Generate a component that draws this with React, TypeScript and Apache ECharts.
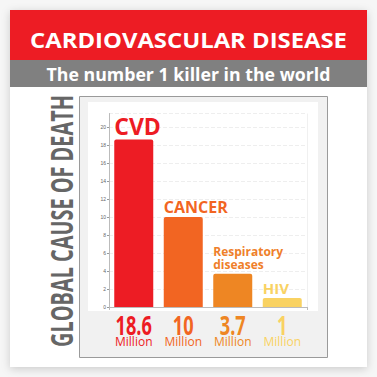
import React, { useEffect, useRef } from "react";
import * as echarts from "echarts";

const categories = ["CVD", "CANCER", "Respiratory\ndiseases", "HIV"];
const deaths = [18.6, 10, 3.7, 1];
const valueLabels = ["18.6", "10", "3.7", "1"];
const unitLabel = "Million";
const barColors = ["#ED1C24", "#F26522", "#EE8623", "#F9D262"];
const labelColors = ["#ED1C24", "#F26522", "#EF7F2A", "#F9D262"];
const labelSizes = [23, 16, 12, 15];
const labelOffsets = [-2, -2, -3, -2];
const yTicks = [0, 2, 4, 6, 8, 10, 12, 14, 16, 18, 20];

const title = "CARDIOVASCULAR DISEASE";
const subtitle = "The number 1 killer in the world";
const sideTitle = "GLOBAL CAUSE OF DEATH";

function measure(text: string, font: string): number {
  const c = document.createElement("canvas").getContext("2d");
  if (!c) return text.length * 10;
  c.font = font;
  return c.measureText(text).width;
}

export default function App() {
  const ref = useRef<HTMLDivElement>(null);
  useEffect(() => {
    if (!ref.current) return;
    const chart = echarts.init(ref.current, undefined, { renderer: "svg" });

    const titleFont = "bold 21px 'Open Sans'";
    const subFont = "bold 18px 'Open Sans'";
    const sideFont = "bold 30px 'Open Sans'";
    const numFont = "bold 26px 'Open Sans'";
    const titleScale = 317 / measure(title, titleFont);
    const subScale = 284 / measure(subtitle, subFont);
    const sideScale = 252 / measure(sideTitle, sideFont);

    const rich: Record<string, any> = {};
    valueLabels.forEach((_, i) => {
      rich["m" + i] = {
        fontFamily: "'Open Sans', Lato, sans-serif",
        fontSize: 12,
        lineHeight: 12,
        color: barColors[i],
        align: "center",
      };
    });
    chart.setOption({
      animation: false,
      backgroundColor: "#f6f6f6",
      graphic: [
        {
          id: "card",
          type: "rect",
          z: 0,
          shape: { x: 10, y: 10, width: 357, height: 357 },
          style: { fill: "#ffffff", shadowBlur: 8, shadowColor: "rgba(0,0,0,0.18)", shadowOffsetY: 2 },
        },
        { id: "red", type: "rect", z: 0, shape: { x: 10, y: 10, width: 357, height: 50 }, style: { fill: "#ED1C24" } },
        { id: "gray", type: "rect", z: 0, shape: { x: 10, y: 60, width: 357, height: 27 }, style: { fill: "#808080" } },
        {
          id: "panel",
          type: "rect",
          z: 0,
          shape: { x: 79.5, y: 96.5, width: 248, height: 261 },
          style: { fill: "#f1f1f1", stroke: "#9a9a9a", lineWidth: 1 },
        },
        { id: "plotbg", type: "rect", z: 0, shape: { x: 88, y: 102, width: 230, height: 209 }, style: { fill: "#ffffff" } },
        {
          id: "title",
          type: "text",
          z: 10,
          x: 188.5,
          y: 40,
          scaleX: titleScale,
          style: { text: title, fill: "#ffffff", font: titleFont, align: "center", verticalAlign: "middle" },
        },
        {
          id: "subtitle",
          type: "text",
          z: 10,
          x: 188.5,
          y: 74,
          scaleX: subScale,
          style: { text: subtitle, fill: "#ffffff", font: subFont, align: "center", verticalAlign: "middle" },
        },
        {
          id: "side",
          type: "text",
          z: 10,
          x: 61.5,
          y: 221,
          rotation: Math.PI / 2,
          scaleX: sideScale,
          style: { text: sideTitle, fill: "#666666", font: sideFont, align: "center", verticalAlign: "middle" },
        },
      ],
      grid: { left: 109, right: 70, top: 113.5, bottom: 70, containLabel: false },
      xAxis: {
        type: "category",
        data: categories,
        z: 5,
        axisLine: { lineStyle: { color: "#bbbbbb", width: 1 } },
        axisTick: { show: true, interval: (i: number) => i === 2, length: 3, lineStyle: { color: "#bbbbbb" } },
        splitLine: { show: true, interval: (i: number) => i === 2, lineStyle: { color: "#f0f0f0" } },
        axisLabel: {
          margin: 28,
          interval: 0,
          formatter: (_v: string, i: number) => `{m${i}|${unitLabel}}`,
          rich,
        },
      },
      yAxis: {
        type: "value",
        min: 0,
        max: 21.5,
        interval: 2,
        z: 5,
        axisLine: { show: true, lineStyle: { color: "#bbbbbb" } },
        axisTick: { show: true, length: 2, lineStyle: { color: "#999999" } },
        axisLabel: {
          fontSize: 5,
          color: "#666666",
          margin: 3,
          showMaxLabel: false,
          formatter: (v: number) => (yTicks.includes(v) ? String(v) : ""),
        },
        splitLine: { show: true, lineStyle: { color: "#eeeeee", type: "dashed" } },
      },
      series: [
        {
          type: "bar",
          z: 6,
          barWidth: 39,
          data: deaths.map((v, i) => ({
            value: v,
            itemStyle: { color: barColors[i], borderRadius: [2, 2, 0, 0] },
            label: {
              show: true,
              position: [0, labelOffsets[i]],
              align: "left",
              verticalAlign: "bottom",
              formatter: categories[i],
              color: labelColors[i],
              fontSize: labelSizes[i],
              lineHeight: labelSizes[i] + 1,
              fontWeight: "bold",
              fontFamily: "'Open Sans', Lato, sans-serif",
            },
          })),
        },
      ],
    });

    const axisY = chart.convertToPixel({ yAxisIndex: 0 }, 0) as number;
    chart.setOption({
      graphic: valueLabels.map((t, i) => ({
        id: "num" + i,
        type: "text",
        z: 10,
        x: chart.convertToPixel({ xAxisIndex: 0 }, categories[i]) as number,
        y: axisY + 18.5,
        scaleX: 0.7,
        style: { text: t, fill: barColors[i], font: numFont, align: "center", verticalAlign: "middle" },
      })),
    });
    return () => chart.dispose();
  }, []);
  return <div ref={ref} style={{ position: "fixed", left: 0, top: 0, width: 377, height: 377 }} />;
}
